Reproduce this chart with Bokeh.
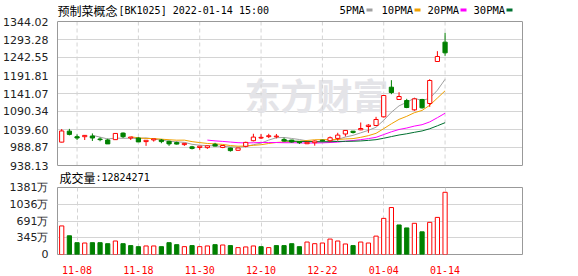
from bokeh.plotting import figure
from bokeh.models import (FixedTicker, Label, Range1d, ColumnDataSource, BoxAnnotation,
                          LinearAxis, Span)
from bokeh.layouts import column
from bokeh.embed import file_html
from bokeh.resources import INLINE
import pandas as pd

# ---------------- data ----------------
dates = ["11-04", "11-05", "11-08", "11-09", "11-10", "11-11", "11-12", "11-15", "11-16", "11-17",
         "11-18", "11-19", "11-22", "11-23", "11-24", "11-25", "11-26", "11-29", "11-30",
         "12-01", "12-02", "12-03", "12-06", "12-07", "12-08", "12-09", "12-10", "12-13", "12-14",
         "12-15", "12-16", "12-17", "12-20", "12-21", "12-22", "12-23", "12-24", "12-27", "12-28",
         "12-29", "12-30", "12-31",
         "01-04", "01-05", "01-06", "01-07", "01-10", "01-11", "01-12", "01-13", "01-14"]
opens = [1004.0, 1035.0, 1019.3, 1019.3, 1021.2, 1012.9, 1010.1, 1011.0, 1029.5, 1015.6,
         1015.6, 1005.5, 1010.1, 1010.0, 1006.4, 1002.7, 997.0, 990.7, 988.9, 988.5,
         998.0, 989.0, 987.5, 981.0, 992.2, 1008.0, 1015.5, 1019.5, 1019.0, 1011.7,
         1009.8, 1005.2, 999.5, 1002.4, 1009.5, 1008.0, 1014.5, 1027.0, 1034.9, 1038.7,
         1048.0, 1050.9, 1075.3, 1158.9, 1124.2, 1121.3, 1095.0, 1124.2, 1112.9, 1231.3,
         1285.8]
highs = [1041.0, 1041.4, 1025.8, 1023.5, 1028.5, 1017.5, 1013.8, 1028.5, 1031.3, 1018.5,
         1017.5, 1009.5, 1012.9, 1012.9, 1008.3, 1005.5, 1001.8, 993.5, 992.6, 995.0,
         1002.0, 996.0, 988.5, 987.5, 1005.2, 1027.5, 1026.6, 1027.5, 1027.0, 1016.4,
         1010.5, 1006.1, 1004.5, 1008.9, 1011.0, 1020.0, 1030.3, 1038.0, 1035.5, 1059.3,
         1054.6, 1075.3, 1135.4, 1178.6, 1144.8, 1126.0, 1128.8, 1126.0, 1181.4, 1260.4,
         1312.1]
lows = [1003.0, 1023.0, 1010.1, 1010.0, 1007.3, 1006.4, 999.0, 1010.0, 1015.6, 1010.1,
        1004.6, 993.5, 1005.5, 1000.9, 993.5, 997.2, 993.5, 983.4, 982.4, 985.0,
        992.0, 987.0, 977.3, 980.0, 989.4, 1006.1, 1012.6, 1015.4, 1014.5, 1005.2,
        1002.4, 998.7, 998.5, 994.0, 1005.5, 1005.2, 1008.0, 1020.0, 1028.3, 1037.7,
        1030.2, 1049.0, 1073.4, 1139.2, 1124.2, 1099.7, 1092.2, 1098.8, 1103.5, 1231.3,
        1247.2]
closes = [1035.5, 1025.8, 1015.6, 1023.0, 1015.6, 1011.0, 999.0, 1028.5, 1019.3, 1018.3,
          1004.6, 1009.2, 1012.9, 1005.5, 999.0, 998.5, 1000.5, 986.1, 992.6, 993.5,
          993.0, 994.5, 980.1, 987.5, 1003.3, 1018.2, 1017.5, 1022.0, 1021.0, 1007.0,
          1004.3, 1002.4, 1003.5, 1007.0, 1007.5, 1016.4, 1023.8, 1037.0, 1031.1, 1042.4,
          1051.8, 1067.8, 1135.4, 1143.9, 1132.6, 1101.6, 1126.0, 1100.7, 1177.7, 1245.4,
          1255.7]
volumes_wan = [589, 386, 244, 237, 244, 244, 223, 278, 223, 183,
               162, 176, 176, 162, 244, 203, 162, 183, 162, 176,
               203, 196, 183, 142, 156, 176, 162, 142, 183, 183,
               223, 162, 257, 223, 237, 318, 278, 217, 183, 257,
               237, 379, 745, 968, 609, 548, 643, 467, 663, 765,
               1282.4271]
last_volume = 12824271

price_tick_labels = ["938.13", "988.87", "1039.60", "1090.34", "1141.07",
                     "1191.81", "1242.55", "1293.28", "1344.02"]
vol_ticks = [0, 345.3, 690.6, 1035.9, 1381.2]
vol_tick_labels = ["0", "345万", "691万", "1036万", "1381万"]
date_tick_labels = ["11-08", "11-18", "11-30", "12-10", "12-22", "01-04", "01-14"]
ma_periods = [5, 10, 20, 30]
ma_names = ["5PMA", "10PMA", "20PMA", "30PMA"]
ma_colors = ["#a0a0a0", "#f0a000", "#ff00ff", "#007030"]
title_cn = "预制菜概念"
title_code = "[BK1025] 2022-01-14 15:00"
vol_title = "成交量"
watermark = "东方财富"

RED = "#ff0000"
GREEN = "#008000"
GRID = "#d4d4d4"
BORDER = "#999999"

# ---------------- derived ----------------
n = len(closes)
xs = list(range(n))
price_ticks = [float(s) for s in price_tick_labels]
p_lo, p_hi = price_ticks[0], price_ticks[-1]
v_lo, v_hi = vol_ticks[0], vol_ticks[-1]
date_ticks = [dates.index(d) for d in date_tick_labels]
up = [c >= o for o, c in zip(opens, closes)]
vol_up = [closes[0] >= opens[0]] + [closes[i] >= closes[i - 1] for i in range(1, n)]

src = ColumnDataSource(dict(
    x=xs, h=highs, l=lows,
    top=[max(o, c) for o, c in zip(opens, closes)],
    bottom=[min(o, c) for o, c in zip(opens, closes)],
    color=[RED if u else GREEN for u in up],
    fill=["#ffffff" if u else GREEN for u in up],
    vol=volumes_wan,
    vcolor=[RED if u else GREEN for u in vol_up],
    vfill=["#ffffff" if u else GREEN for u in vol_up],
))

x_range = Range1d(-0.55, 60.1)

# layout geometry (pixels): main frame 0..186 holding the price box 21..165
MAIN_H, BOX_TOP, BOX_BOT = 186, 21, 165
px_per_unit = (BOX_BOT - BOX_TOP) / (p_hi - p_lo)
main_y_hi = p_hi + BOX_TOP / px_per_unit
main_y_lo = p_lo - (MAIN_H - BOX_BOT) / px_per_unit
VOL_OVERLAP = 10


def style_y(p):
    p.yaxis.major_tick_line_color = None
    p.yaxis.minor_tick_line_color = None
    p.yaxis.major_label_text_font = "DejaVu Sans"
    p.yaxis.major_label_text_font_size = "11px"
    p.yaxis.major_label_text_color = "#222222"
    p.yaxis.major_label_standoff = 3
    p.ygrid.grid_line_color = GRID


# ---------------- main (price) panel ----------------
p = figure(width=578, height=MAIN_H, x_range=x_range, y_range=Range1d(main_y_lo, main_y_hi),
           output_backend="svg", toolbar_location=None,
           min_border_left=56, min_border_right=56, min_border_top=0, min_border_bottom=0)
p.outline_line_color = None
p.background_fill_color = "#ffffff"
p.border_fill_color = "#ffffff"
p.xaxis.visible = False
p.xgrid.visible = False
style_y(p)
p.yaxis.ticker = FixedTicker(ticks=price_ticks)
p.yaxis.major_label_overrides = {t: s for t, s in zip(price_ticks, price_tick_labels)}
p.yaxis.bounds = (p_lo, p_hi)
p.yaxis.axis_line_color = BORDER
p.ygrid.ticker = FixedTicker(ticks=price_ticks)
p.add_layout(LinearAxis(ticker=FixedTicker(ticks=[]), bounds=(p_lo, p_hi), axis_line_color=BORDER,
                        major_tick_line_color=None, minor_tick_line_color=None), "right")
p.add_layout(Span(location=p_hi, dimension="width", line_color=BORDER, line_width=1))
p.add_layout(Span(location=p_lo, dimension="width", line_color=BORDER, line_width=1))
p.segment(x0=date_ticks, y0=[p_lo] * len(date_ticks), x1=date_ticks, y1=[p_hi] * len(date_ticks),
          line_color=GRID, line_width=1, line_dash="4 3")

p.add_layout(Label(x=187, y=MAIN_H - 93, x_units="screen", y_units="screen", text=watermark,
                   text_font="Noto Sans CJK SC", text_font_size="36px", text_font_style="bold",
                   text_color="#e4e4e8", text_baseline="middle", level="underlay"))

closes_s = pd.Series(closes)
for per, col in zip(ma_periods, ma_colors):
    ma = closes_s.rolling(per).mean()
    p.line(xs, ma.tolist(), line_color=col, line_width=1)

p.segment("x", "h", "x", "l", line_color="color", line_width=1, source=src)
p.vbar(x="x", width=0.55, top="top", bottom="bottom", fill_color="fill",
       line_color="color", line_width=1, source=src)

p.add_layout(Label(x=0, y=MAIN_H - 10, x_units="screen", y_units="screen", text=title_cn,
                   text_font="Noto Sans CJK SC", text_font_size="12px",
                   text_color="#000000", text_baseline="middle"))
p.add_layout(Label(x=61, y=MAIN_H - 10, x_units="screen", y_units="screen", text=title_code,
                   text_font="DejaVu Sans Mono", text_font_size="10px",
                   text_color="#000000", text_baseline="middle"))

leg_text_x = [282, 324, 370, 416]
leg_box_x = [309, 357, 403, 449]
for name, col, tx, bx in zip(ma_names, ma_colors, leg_text_x, leg_box_x):
    p.add_layout(Label(x=tx, y=MAIN_H - 9, x_units="screen", y_units="screen", text=name,
                       text_font="DejaVu Sans Mono", text_font_size="10.5px",
                       text_color="#000000", text_baseline="middle"))
    p.add_layout(BoxAnnotation(left=bx, right=bx + 6, bottom=MAIN_H - 11, top=MAIN_H - 8,
                               left_units="screen", right_units="screen",
                               bottom_units="screen", top_units="screen",
                               fill_color=col, fill_alpha=1, line_color=None))

p.add_layout(Label(x=2, y=MAIN_H - 177, x_units="screen", y_units="screen", text=vol_title,
                   text_font="Noto Sans CJK SC", text_font_size="12px",
                   text_color="#000000", text_baseline="middle"))
p.add_layout(Label(x=38, y=MAIN_H - 177, x_units="screen", y_units="screen",
                   text=":" + str(last_volume),
                   text_font="DejaVu Sans Mono", text_font_size="10px",
                   text_color="#000000", text_baseline="middle"))

# ---------------- volume panel (box 187..255) ----------------
v_height = 276 - MAIN_H + VOL_OVERLAP
v = figure(width=578, height=v_height, x_range=x_range, y_range=Range1d(v_lo, v_hi),
           output_backend="svg", toolbar_location=None,
           min_border_left=56, min_border_right=56,
           min_border_top=187 - MAIN_H + VOL_OVERLAP, min_border_bottom=21)
v.margin = (-VOL_OVERLAP, 0, 0, 0)
v.border_fill_color = None
v.background_fill_color = "#ffffff"
v.outline_line_color = BORDER
style_y(v)
v.yaxis.axis_line_color = None
v.yaxis.ticker = FixedTicker(ticks=vol_ticks)
v.yaxis.major_label_overrides = {t: s for t, s in zip(vol_ticks, vol_tick_labels)}
v.ygrid.ticker = FixedTicker(ticks=vol_ticks)
v.xgrid.ticker = FixedTicker(ticks=date_ticks)
v.xgrid.grid_line_color = GRID
v.xgrid.grid_line_dash = "4 3"
v.xaxis.ticker = FixedTicker(ticks=date_ticks)
v.xaxis.major_label_overrides = {t: s for t, s in zip(date_ticks, date_tick_labels)}
v.xaxis.axis_line_color = None
v.xaxis.major_tick_line_color = None
v.xaxis.minor_tick_line_color = None
v.xaxis.major_label_text_font = "DejaVu Sans Mono"
v.xaxis.major_label_text_font_size = "10px"
v.xaxis.major_label_text_color = RED
v.xaxis.major_label_standoff = 5

v.vbar(x="x", width=0.55, top="vol", bottom=0, fill_color="vfill",
       line_color="vcolor", line_width=1, source=src)

layout = column(p, v, spacing=0)
open("out.html", "w").write(file_html(layout, INLINE))
